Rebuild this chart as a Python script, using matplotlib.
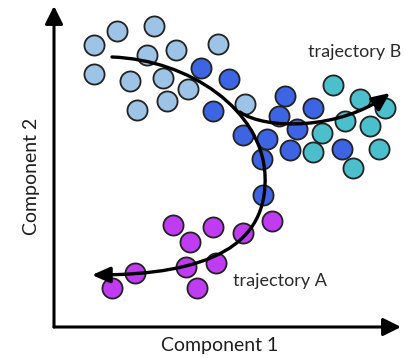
import matplotlib
matplotlib.use('Agg')
import matplotlib.pyplot as plt
from matplotlib.path import Path
from matplotlib.patches import FancyArrowPatch

# points (pixel-like units, y grows downward)
light_x = [94, 117, 154, 147, 176, 218, 94, 130, 163, 188, 167, 137, 245]
light_y = [45, 31, 26, 55, 50, 44, 74, 81, 78, 89, 101, 110, 104]

blue_x = [201, 229, 285, 213, 313, 279, 297, 243, 267, 290, 342, 262, 263]
blue_y = [68, 79, 96, 111, 108, 116, 129, 135, 139, 150, 149, 159, 195]

teal_x = [333, 360, 385, 345, 322, 370, 313, 379, 353]
teal_y = [85, 99, 108, 121, 133, 126, 152, 149, 168]

mag_x = [173, 213, 272, 190, 243, 135, 186, 216, 112, 197]
mag_y = [225, 227, 221, 242, 233, 273, 267, 263, 288, 288]

plt.rcParams['font.family'] = ['Lato', 'DejaVu Sans']

fig = plt.figure(figsize=(4.05, 3.58), dpi=100)
ax = fig.add_axes([0, 0, 1, 1])
ax.set_xlim(0, 405)
ax.set_ylim(358, 0)
ax.axis('off')

edge = '#222222'
s = 210
ax.scatter(light_x, light_y, s=s, c='#9dc3e6', edgecolors=edge, linewidths=1.3, zorder=2)
ax.scatter(blue_x, blue_y, s=s, c='#3d64e3', edgecolors=edge, linewidths=1.3, zorder=2)
ax.scatter(teal_x, teal_y, s=s, c='#4cbfcc', edgecolors=edge, linewidths=1.3, zorder=2)
ax.scatter(mag_x, mag_y, s=s, c='#bf3cf2', edgecolors=edge, linewidths=1.3, zorder=2)

# axes with arrows
for start, end in [((54, 327), (54, 6)), ((54, 327), (401, 327))]:
    ax.add_patch(FancyArrowPatch(start, end, arrowstyle='-|>,head_length=0.9,head_width=0.45',
                                 mutation_scale=12, lw=2.2, color='black', zorder=3,
                                 shrinkA=0, shrinkB=0))

# trajectory A
verts_a = [(112, 57), (190, 60), (262, 110), (265, 175),
           (268, 245), (210, 275), (92, 275)]
codes_a = [Path.MOVETO] + [Path.CURVE4] * 6
ax.add_patch(FancyArrowPatch(path=Path(verts_a, codes_a),
                             arrowstyle='-|>,head_length=0.9,head_width=0.4',
                             mutation_scale=12, lw=2.4, color='black', zorder=4))

# trajectory B
verts_b = [(240, 112), (265, 130), (340, 130), (390, 93)]
codes_b = [Path.MOVETO] + [Path.CURVE4] * 3
ax.add_patch(FancyArrowPatch(path=Path(verts_b, codes_b),
                             arrowstyle='-|>,head_length=0.9,head_width=0.4',
                             mutation_scale=12, lw=2.4, color='black', zorder=4))

ax.text(355, 52, 'trajectory B', fontsize=13, color='#2a2a2a', ha='center', va='center')
ax.text(280, 281, 'trajectory A', fontsize=13, color='#2a2a2a', ha='center', va='center')
ax.text(220, 346, 'Component 1', fontsize=14, color='#1e1e1e', ha='center', va='center')
ax.text(31, 176, 'Component 2', fontsize=14, color='#1e1e1e', ha='center', va='center',
        rotation=90)

fig.savefig('out.png', dpi=100)
